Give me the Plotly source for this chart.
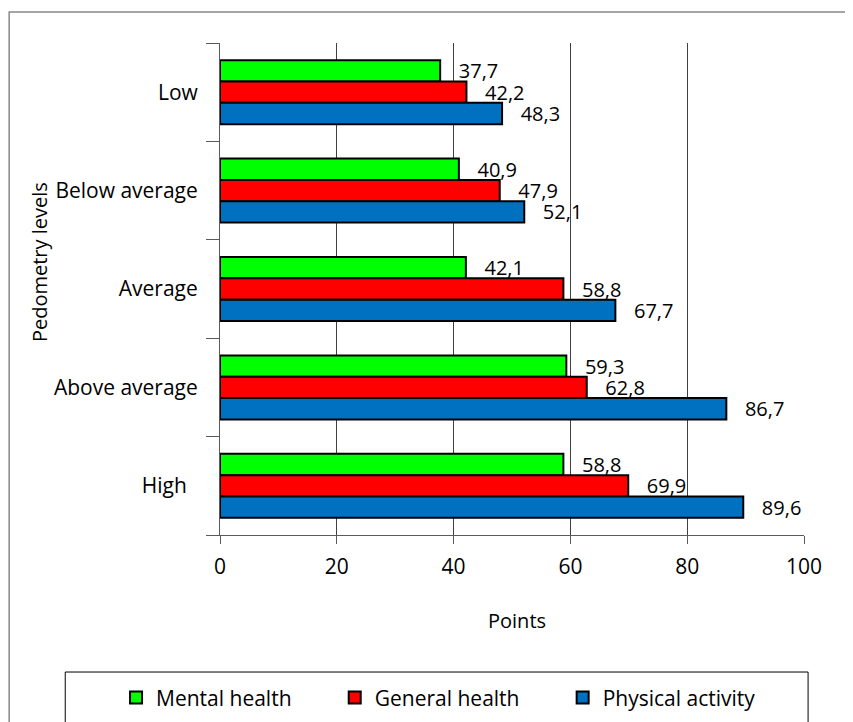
import plotly.graph_objects as go

categories = ["Low", "Below average", "Average", "Above average", "High"]
category_labels = ["Low", "Below average", "Average", "Above average", "High\u00a0\u00a0"]
series_names = ["Mental health", "General health", "Physical activity"]
mental = [37.7, 40.9, 42.1, 59.3, 58.8]
general = [42.2, 47.9, 58.8, 62.8, 69.9]
physical = [48.3, 52.1, 67.7, 86.7, 89.6]
colors = ["#00FF00", "#FF0000", "#0070C0"]
x_ticks = [0, 20, 40, 60, 80, 100]

FONT = "Open Sans, sans-serif"
PAD = "\u00a0" * 7

fig = go.Figure()
for i, (name, vals, col) in enumerate(zip(series_names, [mental, general, physical], colors)):
    fig.add_trace(go.Bar(
        y=categories, x=vals, name=name + (PAD if i < 2 else ""), orientation="h",
        marker=dict(color=col, line=dict(color="black", width=2)),
        texttemplate="\u00a0\u00a0\u00a0%{x:.1f}", textposition="outside",
        constraintext="none",
        textfont=dict(family=FONT, size=20, color="black"),
        cliponaxis=False,
    ))

fig.update_layout(
    width=853, height=722,
    margin=dict(l=212, r=57, t=35, b=195),
    paper_bgcolor="white", plot_bgcolor="white",
    separators=", ",
    barmode="group", bargap=0.35, bargroupgap=0,
    font=dict(family=FONT, size=21, color="black"),
    showlegend=True,
    legend=dict(orientation="h", x=-0.178, xanchor="left", y=-0.331, yanchor="middle",
                font=dict(family=FONT, size=21, color="black"),
                itemwidth=30, bgcolor="rgba(0,0,0,0)"),
    xaxis=dict(range=[0, 100], tickvals=x_ticks, showgrid=True, gridcolor="#404040", gridwidth=1,
               showline=True, linecolor="#5a5a5a", linewidth=1, ticks="outside", ticklen=8,
               tickcolor="#5a5a5a", zeroline=False, ticklabelstandoff=5,
               tickfont=dict(family=FONT, size=21)),
    yaxis=dict(autorange="reversed", type="category", showline=True, linecolor="#5a5a5a", linewidth=1,
               ticks="outside", ticklen=13, tickcolor="#5a5a5a", tickson="boundaries",
               tickvals=categories, ticktext=category_labels,
               showgrid=False, ticklabelstandoff=17,
               tickfont=dict(family=FONT, size=21)),
    annotations=[
        dict(text="Points", xref="paper", yref="paper", x=0.509, y=-0.173,
             xanchor="center", yanchor="middle", showarrow=False,
             font=dict(family=FONT, size=20, color="black")),
        dict(text="Pedometry levels", xref="paper", yref="paper", x=-0.308, y=0.555,
             xanchor="center", yanchor="middle", showarrow=False, textangle=-90,
             font=dict(family=FONT, size=20, color="black")),
    ],
    shapes=[
        dict(type="rect", xref="paper", yref="paper", x0=-0.361, x1=1.3, y0=-0.6, y1=1.063,
             line=dict(color="#888888", width=1.5), fillcolor="rgba(0,0,0,0)", layer="below"),
        dict(type="rect", xref="paper", yref="paper", x0=-0.265, x1=1.007, y0=-0.5, y1=-0.2785,
             line=dict(color="black", width=1), fillcolor="rgba(0,0,0,0)"),
    ],
)

fig.write_html("out.html")
